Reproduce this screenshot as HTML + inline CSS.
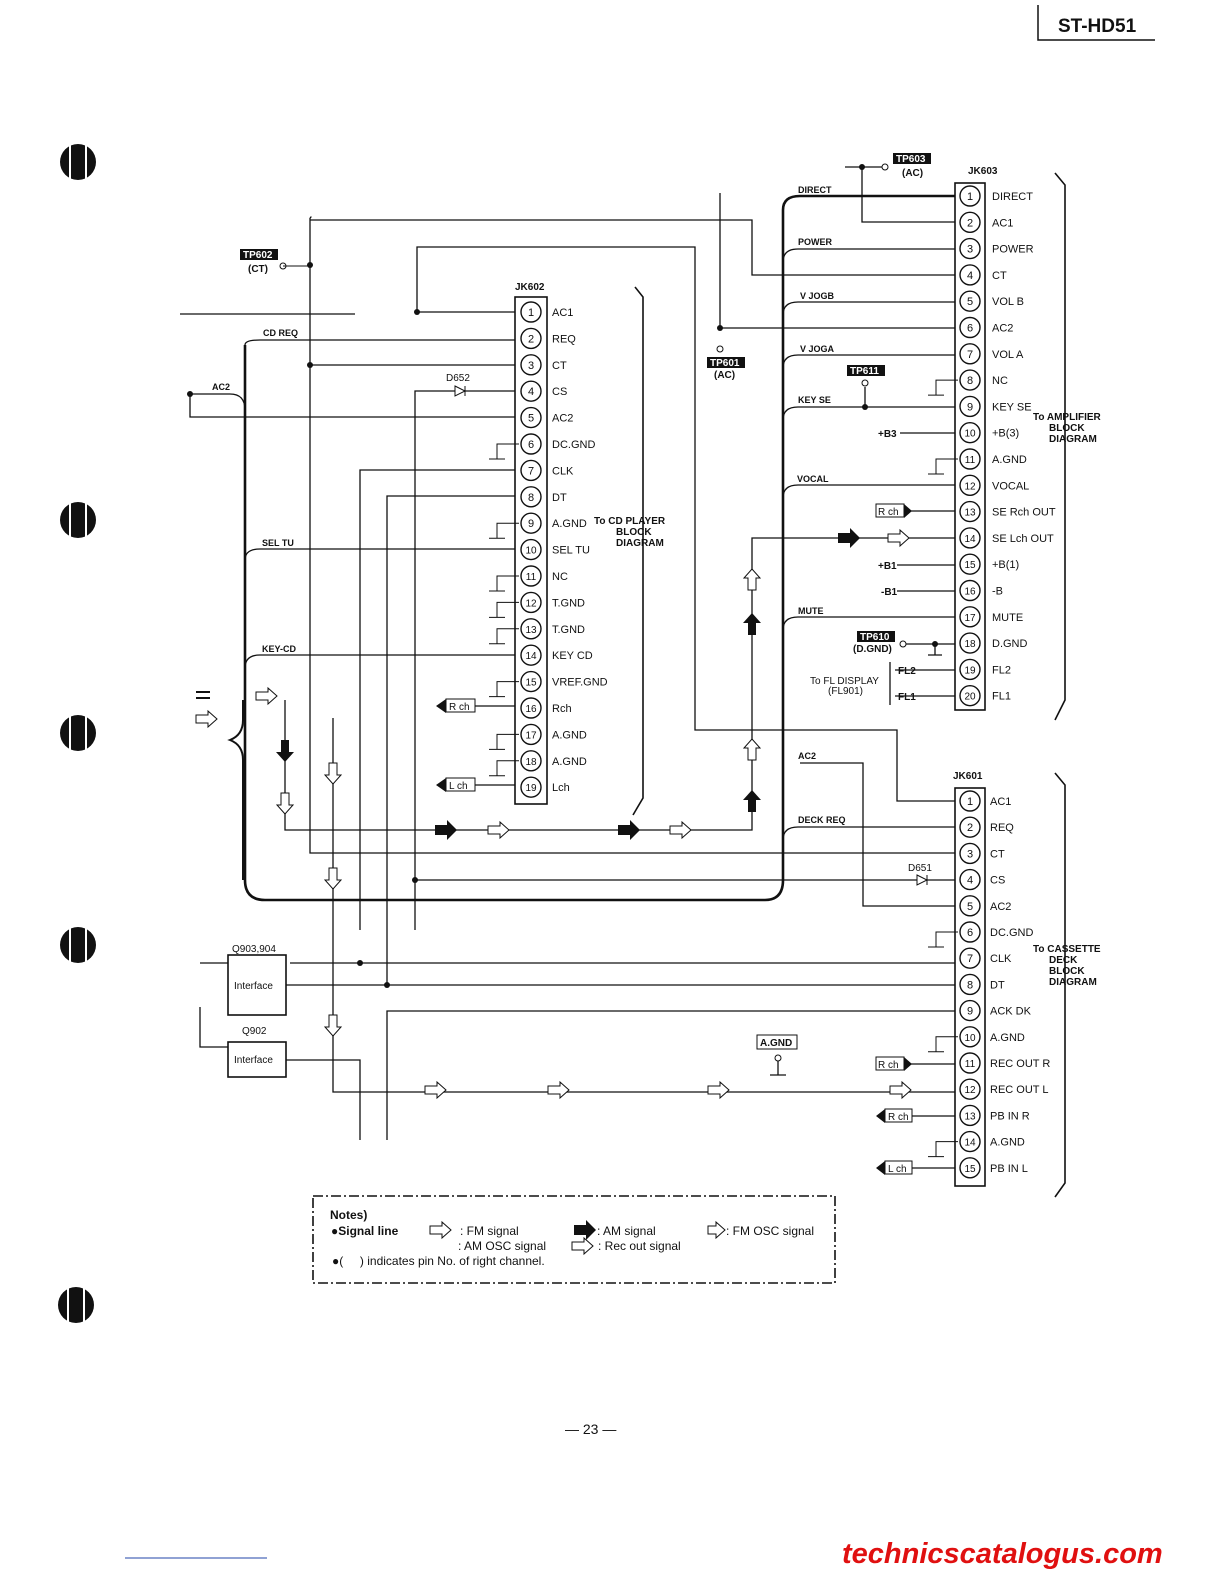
<!DOCTYPE html>
<html><head><meta charset="utf-8"><style>
html,body{margin:0;padding:0;background:#fff}
svg{display:block}
text{font-family:"Liberation Sans",Arial,sans-serif;fill:#111}
</style></head><body>
<svg id="s" width="1224" height="1584" viewBox="0 0 1224 1584" xmlns="http://www.w3.org/2000/svg">
<defs>
<marker id="ar" markerWidth="8" markerHeight="6" refX="7" refY="3" orient="auto"><path d="M0,0L8,3L0,6z" fill="#111"/></marker>
</defs>
<g stroke="#111" stroke-width="1.3" fill="none">
<!-- header -->
<path d="M1038 5V40H1155" stroke-width="1.5"/>
</g>
<text x="1058" y="32" font-size="19" font-weight="bold">ST-HD51</text>
<!-- binder holes -->
<g fill="#111">
<circle cx="78" cy="162" r="18"/><circle cx="78" cy="520" r="18"/><circle cx="78" cy="733" r="18"/><circle cx="78" cy="945" r="18"/><circle cx="76" cy="1305" r="18"/>
</g>
<g stroke="#fff" stroke-width="2"><path d="M70 140V185M86 140V185M70 498V543M86 498V543M70 711V756M86 711V756M70 923V968M86 923V968M68 1283V1328M84 1283V1328"/></g>

<g id="w" stroke="#111" stroke-width="1.3" fill="none">
<!-- main bus -->
<path d="M245 345Q245 340 260 340H515" />
<path d="M245 345V555M245 555V880Q245 900 265 900H765Q783 900 783 880V210Q783 196 800 196H955" stroke-width="2.6"/>
<path d="M783 262Q783 249 798 249H955M783 315Q783 302 798 302H955M783 368Q783 355 798 355H955M783 420Q783 407 798 407H955M783 498Q783 485 798 485H955M783 630Q783 617 798 617H955M783 840Q783 827 798 827H955"/>
<path d="M245 560Q245 549 260 549H515M245 668Q245 655 260 655H515"/>
<!-- top lines -->
<path d="M862 167V222H955M845 167H885"/>
<path d="M310 220H752V275H955M310 218V853H955"/>
<path d="M720 193V328M720 328H955"/>
<path d="M417 312V247H695V730H897V801H955M417 312H515"/>
<path d="M310 365H515"/>
<path d="M190 394H230Q245 394 245 410M190 394V417H515"/>
<path d="M415 930V391H515"/>
<path d="M415 880H955"/>
<path d="M360 930V470H515"/>
<path d="M387 985V496H515"/>
<path d="M286 985H955"/>
<path d="M333 718V1092H955"/>
<path d="M285 700V830H752V538H955"/>
<path d="M387 1140V1011H955"/>
<path d="M286 1060H360V1140"/>
<path d="M800 763H863V906H955"/>
<path d="M290 963H955"/>
<path d="M200 963H228"/>
<path d="M200 1007V1047H228"/>
<path d="M180 314H355"/>
<path d="M865 387V407"/>
<path d="M900 644H955M935 644V655M928 655H942"/>
<path d="M778 1058V1075M770 1075H786"/>
<!-- FL -->
<path d="M895 670H955M895 696H955M890 662V705"/>
<path d="M900 433H955M897 565H955M897 591H955M905 511H955M905 1064H955M912 1116H955M912 1168H955M475 706H515M475 785H515"/>
</g>
<g stroke="#111" stroke-width="1.3" fill="none">
<path d="M310 218Q312 216 310 218"/>
</g>
<!-- dots -->
<g fill="#111"><circle cx="310" cy="265" r="3"/><circle cx="310" cy="365" r="3"/><circle cx="417" cy="312" r="3"/><circle cx="720" cy="328" r="3"/><circle cx="862" cy="167" r="3"/><circle cx="190" cy="394" r="3"/><circle cx="865" cy="407" r="3"/><circle cx="935" cy="644" r="3"/><circle cx="415" cy="880" r="3"/><circle cx="387" cy="985" r="3"/><circle cx="360" cy="963" r="3"/></g>
<g stroke="#111" fill="#fff"><circle cx="885" cy="167" r="3"/><circle cx="283" cy="266" r="3"/><circle cx="720" cy="349" r="3"/><circle cx="865" cy="383" r="3"/><circle cx="903" cy="644" r="3"/><circle cx="778" cy="1058" r="3"/></g>
<path d="M283 266H310" stroke="#111"/>
<!-- diodes -->
<path d="M455 386L465 391L455 396Z M465 386V396" stroke="#111" fill="#fff"/>
<path d="M917 875L927 880L917 885Z M927 875V885" stroke="#111" fill="#fff"/>

<g id="conn" stroke="#111" stroke-width="1.6" fill="none">
<rect x="955" y="183" width="30" height="527"/>
<rect x="515" y="297" width="32" height="507"/>
<rect x="955" y="788" width="30" height="398"/>
<rect x="228" y="955" width="58" height="60"/>
<rect x="228" y="1042" width="58" height="35"/>
<rect x="313" y="1196" width="522" height="87" stroke-dasharray="10,3,2,3"/>
<path d="M1055 173L1065 185V700L1055 720M1055 773L1065 785V1183L1055 1197M635 287L643 297V798L633 815"/>
<path d="M243 700V720Q243 735 230 740Q243 745 243 760V880" stroke-width="2"/>
</g>
<g id="pins"></g>
<g font-size="10" font-weight="bold">
<text x="968" y="174">JK603</text><text x="515" y="290">JK602</text><text x="953" y="779">JK601</text>
<text x="798" y="193" font-size="9">DIRECT</text><text x="798" y="245" font-size="9">POWER</text><text x="800" y="299" font-size="9">V JOGB</text><text x="800" y="352" font-size="9">V JOGA</text><text x="798" y="403" font-size="9">KEY SE</text><text x="797" y="482" font-size="9">VOCAL</text><text x="798" y="614" font-size="9">MUTE</text><text x="798" y="759" font-size="9">AC2</text><text x="798" y="823" font-size="9">DECK REQ</text>
<text x="263" y="336" font-size="9">CD REQ</text><text x="262" y="546" font-size="9">SEL TU</text><text x="262" y="652" font-size="9">KEY-CD</text><text x="212" y="390" font-size="9">AC2</text>
<text x="878" y="437">+B3</text><text x="878" y="569">+B1</text><text x="881" y="595">-B1</text><text x="898" y="674">FL2</text><text x="898" y="700">FL1</text>
<text x="594" y="524">To CD PLAYER</text><text x="616" y="535">BLOCK</text><text x="616" y="546">DIAGRAM</text>
<text x="1033" y="420">To AMPLIFIER</text><text x="1049" y="431">BLOCK</text><text x="1049" y="442">DIAGRAM</text>
<text x="1033" y="952">To CASSETTE</text><text x="1049" y="963">DECK</text><text x="1049" y="974">BLOCK</text><text x="1049" y="985">DIAGRAM</text>
<text x="853" y="652">(D.GND)</text><text x="902" y="176">(AC)</text><text x="714" y="378">(AC)</text><text x="248" y="272">(CT)</text>
</g>
<g font-size="10">
<text x="446" y="381">D652</text><text x="908" y="871">D651</text><text x="810" y="684">To FL DISPLAY</text><text x="828" y="694">(FL901)</text>
<text x="232" y="952">Q903,904</text><text x="242" y="1034">Q902</text><text x="234" y="989">Interface</text><text x="234" y="1063">Interface</text>
</g>
<!-- TP tags -->
<g font-size="10" font-weight="bold">
<rect x="893" y="153" width="38" height="11" fill="#111"/><text x="896" y="162" fill="#fff" style="fill:#fff">TP603</text>
<rect x="240" y="249" width="38" height="11" fill="#111"/><text x="243" y="258" style="fill:#fff">TP602</text>
<rect x="707" y="357" width="38" height="11" fill="#111"/><text x="710" y="366" style="fill:#fff">TP601</text>
<rect x="847" y="365" width="38" height="11" fill="#111"/><text x="850" y="374" style="fill:#fff">TP611</text>
<rect x="857" y="631" width="38" height="11" fill="#111"/><text x="860" y="640" style="fill:#fff">TP610</text>
</g>
<!-- ch tags -->
<g font-size="10" stroke="#111" fill="#fff">
<rect x="876" y="504" width="28" height="13"/><rect x="876" y="1057" width="28" height="13"/>
<rect x="885" y="1109" width="27" height="13"/><rect x="885" y="1161" width="27" height="13"/>
<rect x="446" y="699" width="29" height="13"/><rect x="446" y="778" width="29" height="13"/>
<rect x="757" y="1035" width="40" height="14"/>
</g>
<g fill="#111"><path d="M904 504L912 511L904 518Z M904 1057L912 1064L904 1071Z M885 1109L876 1116L885 1123Z M885 1161L876 1168L885 1175Z M446 699L436 706L446 713Z M446 778L436 785L446 792Z"/></g>
<g font-size="10"><text x="878" y="515">R ch</text><text x="878" y="1068">R ch</text><text x="888" y="1120">R ch</text><text x="888" y="1172">L ch</text><text x="449" y="710">R ch</text><text x="449" y="789">L ch</text><text x="760" y="1046" font-weight="bold">A.GND</text></g>
<!-- signal arrows -->
<g fill="#111"><path d="M435 825h12v-5l10 10-10 10v-5h-12z M618 825h12v-5l10 10-10 10v-5h-12z M838 533h12v-5l10 10-10 10v-5h-12z M748 635v-12h-5l9-10 9 10h-5v12z M748 812v-12h-5l9-10 9 10h-5v12z M281 740v12h-5l9 10 9-10h-5v-12z M574 1225h12v-5l10 10-10 10v-5h-12z"/></g>
<g fill="#fff" stroke="#111"><path d="M488 826h12v-4l9 8-9 8v-4h-12z M670 826h12v-4l9 8-9 8v-4h-12z M888 534h12v-4l9 8-9 8v-4h-12z M748 590v-12h-4l8-9 8 9h-4v12z M748 760v-12h-4l8-9 8 9h-4v12z M281 793v12h-4l8 9 8-9h-4v-12z M329 763v12h-4l8 9 8-9h-4v-12z M329 868v12h-4l8 9 8-9h-4v-12z M329 1015v12h-4l8 9 8-9h-4v-12z M425 1086h12v-4l9 8-9 8v-4h-12z M548 1086h12v-4l9 8-9 8v-4h-12z M708 1086h12v-4l9 8-9 8v-4h-12z M890 1086h12v-4l9 8-9 8v-4h-12z M256 692h12v-4l9 8-9 8v-4h-12z M196 715h12v-4l9 8-9 8v-4h-12z M430 1226h12v-4l9 8-9 8v-4h-12z M572 1242h12v-4l9 8-9 8v-4h-12z M708 1226h8v-4l9 8-9 8v-4h-8z"/></g>
<path d="M196 692h14M196 698h14" stroke="#111" stroke-width="2"/>
<!-- notes -->
<g font-size="12"><text x="330" y="1219" font-weight="bold">Notes)</text><text x="331" y="1235"><tspan font-weight="bold">●Signal line</tspan></text>
<text x="460" y="1235">: FM signal</text><text x="597" y="1235">: AM signal</text><text x="726" y="1235">: FM OSC signal</text>
<text x="458" y="1250">: AM OSC signal</text><text x="598" y="1250">: Rec out signal</text>
<text x="332" y="1265">●(&#160;&#160;&#160;&#160;&#160;) indicates pin No. of right channel.</text></g>
<text x="565" y="1434" font-size="14" font-family="Liberation Serif">— 23 —</text>
<text x="842" y="1563" font-size="29" font-weight="bold" font-style="italic" style="fill:#e01010">technicscatalogus.com</text>
<path d="M125 1558H267" stroke="#2244aa"/>
</svg>
<script>
var ns="http://www.w3.org/2000/svg",g=document.getElementById("pins");
function pin(cx,cy,n,lab,lx){var c=document.createElementNS(ns,"circle");c.setAttribute("cx",cx);c.setAttribute("cy",cy);c.setAttribute("r",10);c.setAttribute("fill","#fff");c.setAttribute("stroke","#111");c.setAttribute("stroke-width","1.4");g.appendChild(c);
var t=document.createElementNS(ns,"text");t.setAttribute("x",cx);t.setAttribute("y",cy+4);t.setAttribute("text-anchor","middle");t.setAttribute("font-size",n>9?"10":"11");t.textContent=n;g.appendChild(t);
var l=document.createElementNS(ns,"text");l.setAttribute("x",lx);l.setAttribute("y",cy+4);l.setAttribute("font-size","11");l.textContent=lab;g.appendChild(l);}
function gnd(x,y){var p=document.createElementNS(ns,"path");p.setAttribute("d","M"+x+" "+y+"H"+(x-22)+"V"+(y+15)+"M"+(x-30)+" "+(y+15)+"H"+(x-14));p.setAttribute("stroke","#111");p.setAttribute("fill","none");g.appendChild(p);}
var a=["DIRECT","AC1","POWER","CT","VOL B","AC2","VOL A","NC","KEY SE","+B(3)","A.GND","VOCAL","SE Rch OUT","SE Lch OUT","+B(1)","-B","MUTE","D.GND","FL2","FL1"];
a.forEach(function(s,i){var y=196+i*26.3;if(i==7||i==10)gnd(958,y);pin(970,y,i+1,s,992);});
var b=["AC1","REQ","CT","CS","AC2","DC.GND","CLK","DT","A.GND","SEL TU","NC","T.GND","T.GND","KEY CD","VREF.GND","Rch","A.GND","A.GND","Lch"];
b.forEach(function(s,i){var y=312+i*26.4;if([5,8,10,11,12,14,16,17].indexOf(i)>=0)gnd(519,y);pin(531,y,i+1,s,552);});
var c=["AC1","REQ","CT","CS","AC2","DC.GND","CLK","DT","ACK DK","A.GND","REC OUT R","REC OUT L","PB IN R","A.GND","PB IN L"];
c.forEach(function(s,i){var y=801+i*26.2;if(i==5||i==9||i==13)gnd(958,y);pin(970,y,i+1,s,990);});
</script>
</body></html>
